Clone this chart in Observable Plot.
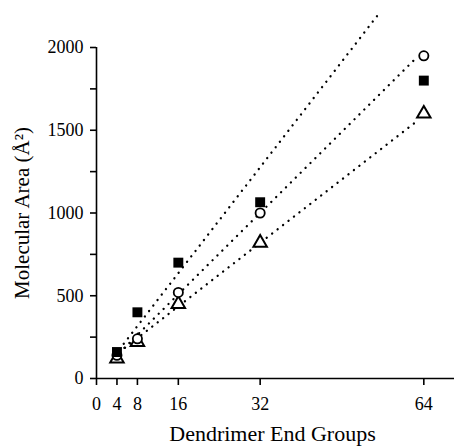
<!DOCTYPE html>
<html>
<head>
<meta charset="utf-8">
<script src="https://cdn.jsdelivr.net/npm/d3@7"></script>
<script src="https://cdn.jsdelivr.net/npm/@observablehq/plot@0.6"></script>
<style>
  html, body { margin: 0; padding: 0; background: #fff; }
  #chart svg g[aria-label$="tick label"] { font-size: 18px !important; }
</style>
</head>
<body>
<div id="chart"></div>
<script>
const endGroups = [4, 8, 16, 32, 64];
const squares   = [160, 400, 700, 1065, 1800];
const circles   = [140, 240, 520, 1000, 1950];
const triangles = [120, 220, 450, 820, 1600];

const xTicks = [0, 4, 8, 16, 32, 64];
const yTicks = [0, 250, 500, 750, 1000, 1250, 1500, 1750, 2000];

// dotted fit lines: [x, y] endpoints
const fitSquaresX   = [4.5, 55.2];
const fitSquaresY   = [177, 2204];
const fitCirclesX   = [4.5, 62];
const fitCirclesY   = [156, 1921];
const fitTrianglesX = [4.5, 62.4];
const fitTrianglesY = [160, 1549];

const xLabel = "Dendrimer End Groups";
const yLabel = "Molecular Area (Å²)";

const toPts = (xs, ys) => xs.map((x, i) => ({x, y: ys[i]}));
const fits = [
  toPts(fitSquaresX, fitSquaresY),
  toPts(fitCirclesX, fitCirclesY),
  toPts(fitTrianglesX, fitTrianglesY)
];
const sq = toPts(endGroups, squares);
const ci = toPts(endGroups, circles);
const tr = toPts(endGroups, triangles);

const font = "'Liberation Serif', 'DejaVu Serif', serif";

const chart = Plot.plot({
  width: 454,
  height: 447,
  marginLeft: 96,
  marginRight: 0,
  marginTop: 47,
  marginBottom: 69,
  style: {fontFamily: font, fontSize: "18px", color: "black", background: "white", overflow: "visible"},
  x: {domain: [0, 70]},
  y: {domain: [0, 2000]},
  marks: [
    ...fits.map(f => Plot.line(f, {x: "x", y: "y", stroke: "black", strokeWidth: 2.3, strokeDasharray: "0.1 6.8", strokeLinecap: "round", clip: false})),
    Plot.ruleX([0], {y1: 0, y2: 2000, stroke: "black", strokeWidth: 1.6}),
    Plot.ruleY([0], {x1: 0, x2: 70, stroke: "black", strokeWidth: 1.6}),
    Plot.axisX({ticks: xTicks, tickSize: 7, tickPadding: 12, tickFormat: d => String(d), label: null, stroke: "black", strokeWidth: 1.6, fontSize: 18}),
    Plot.axisY({ticks: yTicks, tickSize: 6, tickPadding: 7, tickFormat: d => d % 500 === 0 ? String(d) : "", label: null, stroke: "black", strokeWidth: 1.6, fontSize: 18}),
    Plot.dot(tr, {x: "x", y: "y", symbol: "triangle", r: 5, stroke: "black", strokeWidth: 2, fill: "white"}),
    Plot.dot(ci, {x: "x", y: "y", symbol: "circle", r: 4.6, stroke: "black", strokeWidth: 1.8, fill: "white"}),
    Plot.dot(sq, {x: "x", y: "y", symbol: "square", r: 5.6, fill: "black", stroke: "none"}),
    Plot.text([xLabel], {text: d => d, frameAnchor: "bottom", dy: 55, dx: -3, fontSize: 22, textAnchor: "middle", lineAnchor: "middle"}),
    Plot.text([yLabel], {text: d => d, frameAnchor: "left", dx: -74, rotate: -90, fontSize: 21, textAnchor: "middle", lineAnchor: "middle"})
  ]
});
document.getElementById("chart").appendChild(chart);
</script>
</body>
</html>
